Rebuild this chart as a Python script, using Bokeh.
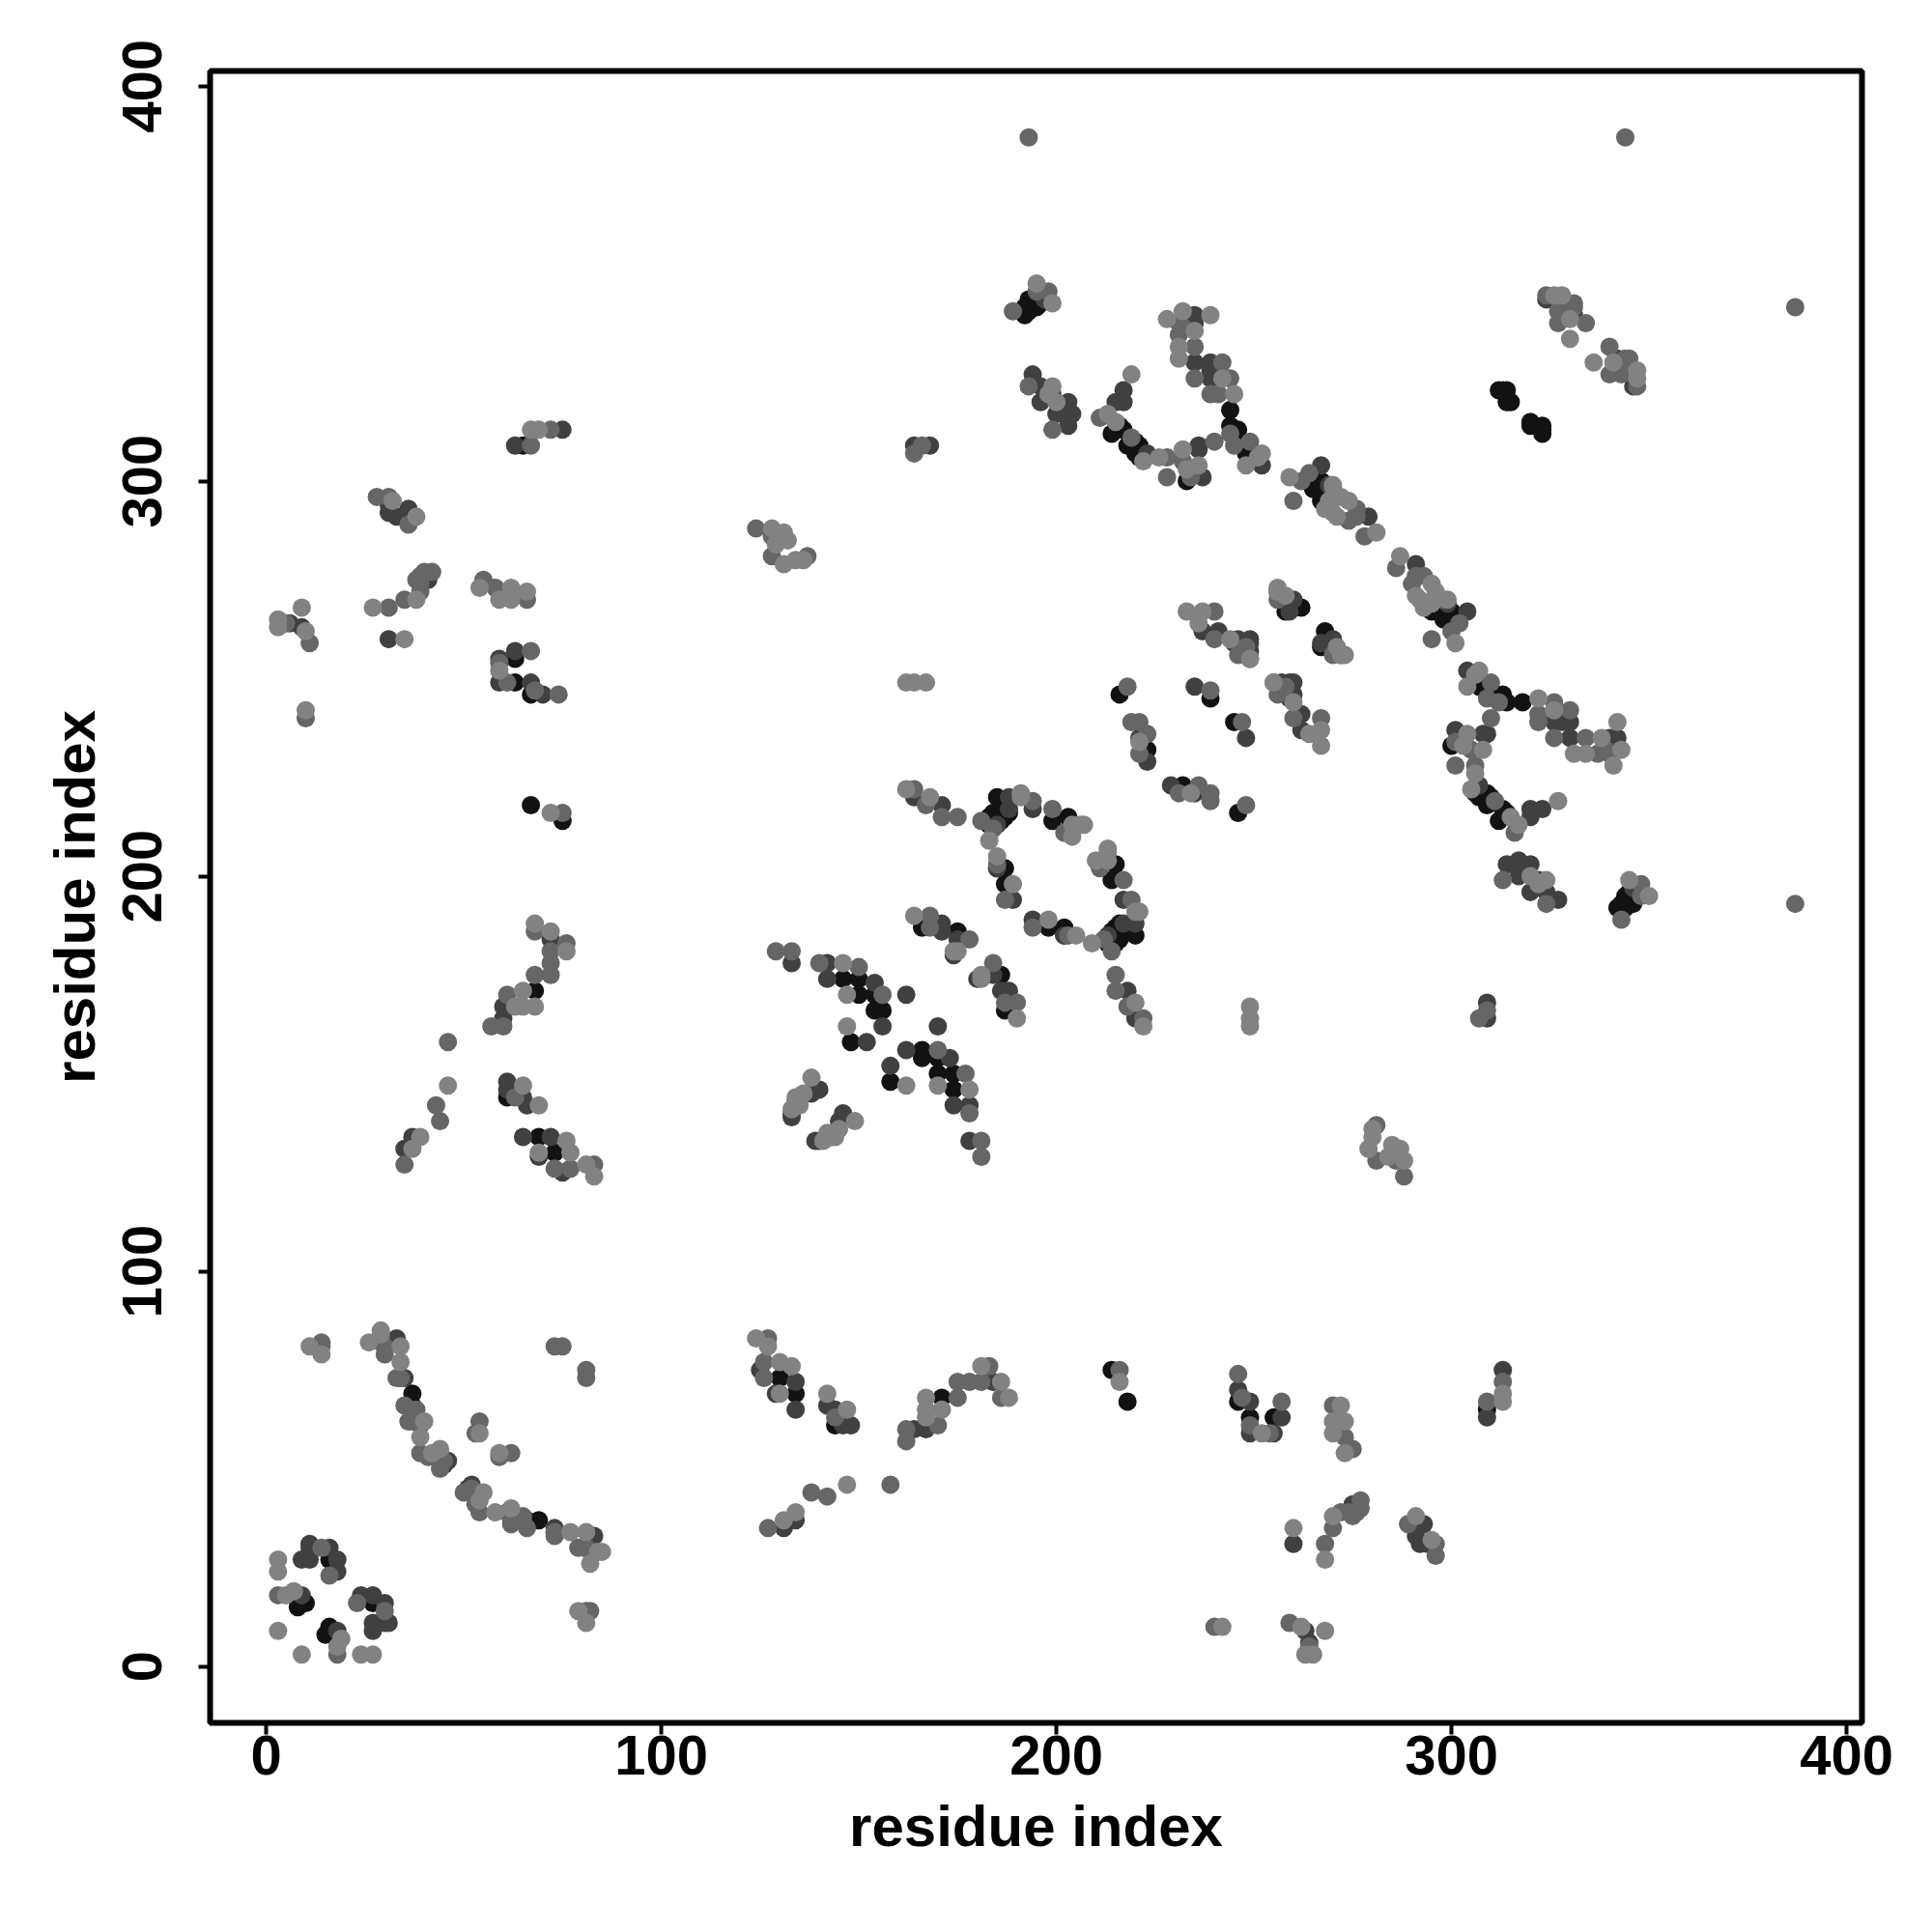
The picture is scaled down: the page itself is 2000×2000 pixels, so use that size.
from bokeh.plotting import figure
from bokeh.embed import file_html
from bokeh.resources import INLINE
from bokeh.models import FixedTicker

# Contact map: the reference is symmetric about the diagonal, so pairs are
# read once (first index > second index) and plotted at (i, j) and (j, i).
black_i = [16,15,16,27,69,66,130,134,144,171,214,218,246,249,255,309,
           174,174,170,170,166,166,158,216,218,214,216,213,202,198,215,214,
           220,215,215,213,216,217,214,215,232,246,
           295,298,300,297,268,269,267,245,
           307,313,314,311,318,300,309,306,307,309,313,312,310,314,
           344,343,342,346,344,345,323,323,320,320,323,202,186,187]
black_j = [9,8,10,16,37,37,73,69,61,68,75,67,67,63,63,65,
           146,150,150,154,154,156,148,188,186,186,184,183,187,187,203,199,
           185,185,183,183,186,187,184,187,223,216,
           267,265,267,267,262,260,258,239,
           248,246,244,246,244,233,221,221,220,218,217,214,220,216,
           195,193,192,193,192,196,313,314,315,314,312,185,175,166]

dark_i = [18,24,27,30,27,27,31,30,82,83,73,65,61,52,51,73,
          125,129,134,134,142,144,148,146,164,167,184,313,309,131,134,246,249,249,255,257,
          260,275,293,291,292,294,263,264,
          178,174,173,162,158,146,145,140,139,178,170,
          218,220,229,235,217,194,217,220,202,180,188,186,184,213,
          291,299,304,270,267,257,260,262,262,259,259,260,248,
          304,326,330,328,330,340,342,309,308,301,307,320,320,323,
          314,317,320,317,320,324,327,322,346,346,342,345,291,309,309]
dark_j = [9,18,18,16,11,9,11,11,33,33,35,37,39,46,45,34,
          75,69,72,65,66,65,61,61,60,60,72,75,63,35,37,70,67,59,59,63,
          31,41,36,33,31,31,9,6,
          142,142,154,156,152,140,138,133,133,133,162,
          171,164,223,221,194,189,188,188,185,174,171,171,175,185,
          279,269,267,260,259,249,249,241,237,249,245,246,235,
          252,239,239,239,235,235,235,236,236,237,223,215,217,217,
          203,204,203,200,196,196,194,199,197,324,331,328,36,164,168]

mid_i = [18,23,30,82,83,79,81,73,73,66,65,62,62,54,54,50,53,52,62,59,81,81,81,82,
         127,126,126,144,162,162,170,175,175,178,181,183,186,216,246,247,249,254,257,
         270,273,275,313,309,127,138,142,158,268,270,272,274,275,277,277,276,289,296,296,259,264,240,
         170,177,178,143,181,181,215,215,218,222,231,236,239,239,248,
         211,217,219,212,214,203,194,184,187,190,
         286,291,293,290,298,302,300,295,270,271,272,256,260,267,247,258,255,
         310,309,312,322,322,326,330,326,334,337,340,339,310,301,305,301,306,311,316,313,324,
         340,343,348,348,344,340,343,347,345,346,387,387,281,286,288,281,309,307]
mid_j = [3,16,14,29,29,30,30,33,34,35,38,36,37,39,44,44,41,45,54,53,73,75,14,14,
         83,77,73,63,60,57,61,72,68,72,72,76,68,75,74,68,61,59,67,
         66,58,55,72,67,35,44,43,46,31,35,39,39,38,42,40,39,36,28,31,11,5,10,
         156,150,140,134,133,129,175,171,167,164,221,223,221,219,218,
         202,199,194,184,181,185,187,178,168,168,
         278,276,276,274,270,264,262,260,256,257,256,246,240,240,239,248,249,
         249,245,244,241,239,244,242,235,235,231,231,232,240,234,232,228,228,219,211,199,193,
         327,327,198,195,331,334,189,324,331,328,193,344,137,128,124,128,166,164]

light_i = [9,24,27,18,19,82,84,85,81,77,62,58,54,55,59,79,81,
           124,127,130,133,130,142,147,167,171,167,167,181,186,188,216,252,
           272,270,273,270,273,313,313,131,134,147,260,268,270,291,295,262,268,263,265,242,
           178,170,162,149,145,144,142,141,
           220,222,249,249,249,234,
           213,210,220,221,198,209,205,213,213,181,190,181,
           287,295,291,293,295,296,292,299,301,271,273,272,255,260,267,264,267,
           307,306,304,322,326,331,334,342,338,343,341,304,303,308,306,305,315,317,327,
           320,324,322,345,350,347,336,341,347,280,279,285,288,287,284,280]
light_j = [3,3,3,5,7,26,29,29,34,34,40,39,42,44,54,14,11,
           83,81,77,76,69,69,65,63,65,68,65,76,72,68,72,59,
           66,62,62,59,54,69,67,37,39,46,35,27,38,38,32,10,9,3,3,10,
           146,147,147,138,136,134,135,133,
           168,162,167,164,162,221,
           207,204,191,191,189,183,185,206,204,174,164,175,
           281,274,271,268,269,272,270,270,259,258,256,256,249,244,237,236,233,
           252,251,248,245,242,231,231,239,235,232,228,236,233,232,226,222,215,213,219,
           200,199,198,199,195,328,330,330,326,136,131,132,128,131,129,134]

ticks = [0, 100, 200, 300, 400]
axis_title = "residue index"
FONT = "Liberation Sans"

p = figure(width=1984, height=1984, output_backend="svg", toolbar_location=None,
           x_range=(-14.2, 403.9), y_range=(-14.3, 403.8),
           min_border_left=217, min_border_right=57, min_border_top=73, min_border_bottom=201,
           background_fill_color="white", border_fill_color="white")
p.grid.visible = False
p.outline_line_color = "black"
p.outline_line_width = 6

for ax in (p.xaxis[0], p.yaxis[0]):
    ax.ticker = FixedTicker(ticks=ticks)
    ax.axis_line_color = None
    ax.major_tick_line_color = "black"
    ax.major_tick_line_width = 4
    ax.major_tick_out = 12
    ax.major_tick_in = 0
    ax.minor_tick_line_color = None
    ax.axis_label = axis_title
    ax.axis_label_text_font = FONT
    ax.axis_label_text_font_style = "bold"
    ax.axis_label_text_font_size = "60px"
    ax.axis_label_text_color = "black"
    ax.major_label_text_font = FONT
    ax.major_label_text_font_style = "bold"
    ax.major_label_text_font_size = "58px"
    ax.major_label_text_color = "black"
p.yaxis[0].major_label_orientation = "vertical"
p.xaxis[0].major_label_standoff = 1
p.yaxis[0].major_label_standoff = 38
p.xaxis[0].axis_label_standoff = 17
p.yaxis[0].axis_label_standoff = 14

layers = [(black_i, black_j, "#121212"), (dark_i, dark_j, "#404040"),
          (mid_i, mid_j, "#666666"), (light_i, light_j, "#828282")]
for i, j, col in layers:
    p.scatter(i + j, j + i, size=19, fill_color=col, line_color=None)

open("out.html", "w").write(file_html(p, INLINE))
